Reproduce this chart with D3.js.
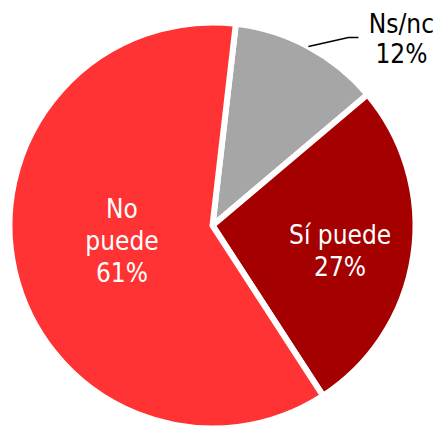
<!DOCTYPE html>
<html>
<head>
<meta charset="utf-8">
<script src="https://cdn.jsdelivr.net/npm/d3@7"></script>
<style>
  html, body { margin: 0; padding: 0; background: #fff; }
  svg { display: block; }
  text { font-family: "DejaVu Sans Condensed", "DejaVu Sans", Verdana, sans-serif; font-size: 26px; }
</style>
</head>
<body>
<svg id="chart" width="441" height="427"></svg>
<script>
// Survey answers, clockwise from just right of 12 o'clock
const categories = ["Ns/nc", "Sí puede", "No puede"];
const values = [12, 27, 61];
const valueLabels = ["12%", "27%", "61%"];
const colors = ["#A6A6A6", "#A50000", "#FF3333"];

const width = 441, height = 427;
const cx = 212.5, cy = 225.5;
const outerR = 203;
const rotation = 6.6 * Math.PI / 180;

const svg = d3.select("#chart");
const g = svg.append("g").attr("transform", `translate(${cx},${cy})`);

const pie = d3.pie()
  .sort(null)
  .value(d => d.value)
  .startAngle(rotation)
  .endAngle(rotation + 2 * Math.PI);

const data = categories.map((c, i) => ({ name: c, value: values[i], label: valueLabels[i], color: colors[i] }));
const arcs = pie(data);

const arc = d3.arc().innerRadius(0).outerRadius(outerR);

g.selectAll("path.slice")
  .data(arcs)
  .join("path")
  .attr("class", "slice")
  .attr("d", arc)
  .attr("fill", d => d.data.color)
  .attr("stroke", "#fff")
  .attr("stroke-width", 6)
  .attr("stroke-linejoin", "miter");

// Label layout: inside labels sit on a centroid ring, the small slice gets a leader line
const lineH = 32;
const inside = {
  "Sí puede": { r: 129, dy: 7, lines: ["Sí puede"] },
  "No puede": { r: 93, dy: -6, lines: ["No", "puede"] }
};

arcs.forEach(d => {
  const cfg = inside[d.data.name];
  if (cfg) {
    const [x, y] = d3.arc().innerRadius(cfg.r).outerRadius(cfg.r).centroid(d);
    const lines = cfg.lines.concat([d.data.label]);
    const t = g.append("text")
      .attr("text-anchor", "middle")
      .attr("fill", "#fff");
    lines.forEach((ln, i) => {
      t.append("tspan")
        .attr("x", x)
        .attr("y", y + cfg.dy + (i - (lines.length - 1) / 2) * lineH)
        .attr("dy", "0.35em")
        .text(ln);
    });
  } else {
    // outside label with leader
    const mid = (d.startAngle + d.endAngle) / 2;
    const p0 = [Math.sin(mid) * outerR, -Math.cos(mid) * outerR];
    const elbow = [p0[0] + 40, p0[1] - 9];
    const end = [elbow[0] + 10, elbow[1]];
    g.append("polyline")
      .attr("points", [p0, elbow, end].map(p => p.join(",")).join(" "))
      .attr("fill", "none")
      .attr("stroke", "#000")
      .attr("stroke-width", 1.5);
    const tx = end[0] + 43;
    const t = g.append("text")
      .attr("text-anchor", "middle")
      .attr("fill", "#000");
    [d.data.name, d.data.label].forEach((ln, i) => {
      t.append("tspan")
        .attr("x", tx)
        .attr("y", end[1] - 5 + i * 30)
        .text(ln);
    });
  }
});
</script>
</body>
</html>
